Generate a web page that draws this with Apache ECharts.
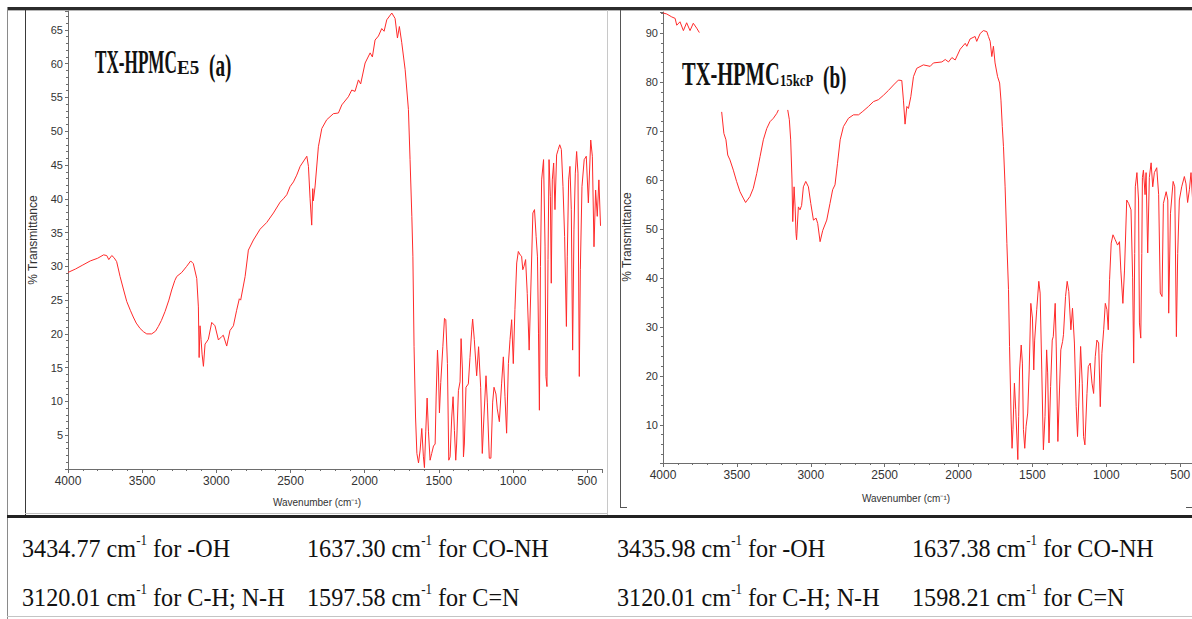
<!DOCTYPE html>
<html><head><meta charset="utf-8">
<script src="https://cdn.jsdelivr.net/npm/echarts@6/dist/echarts.min.js"></script>
<style>html,body{margin:0;padding:0;background:#fff}#c{width:1192px;height:619px}</style>
</head><body><div id="c"></div>
<script>
// ---------- DATA ----------
const wavenumbersA = [4000,3950,3900,3850,3800,3784,3760,3739,3725,3705,3690,3672,3649,3625,3604,3580,3560,3540,3514,3490,3469,3436,3410,3391,3370,3346,3320,3301,3280,3267,3233,3200,3173,3155,3132,3121,3116,3110,3103,3096,3087,3076,3066,3054,3031,3009,2986,2964,2953,2930,2908,2885,2863,2845,2836,2806,2784,2750,2705,2660,2615,2570,2548,2525,2503,2480,2458,2435,2390,2379,2368,2357,2350,2346,2334,2312,2289,2256,2211,2177,2154,2110,2087,2065,2042,2027,1997,1963,1948,1930,1907,1885,1869,1851,1817,1795,1779,1766,1750,1727,1705,1694,1682,1675,1667,1657,1648,1637,1626,1615,1604,1597,1588,1579,1570,1559,1548,1536,1525,1518,1509,1503,1496,1487,1473,1462,1453,1442,1433,1424,1413,1404,1395,1386,1380,1368,1357,1350,1341,1334,1328,1317,1301,1290,1278,1272,1261,1245,1232,1218,1207,1196,1182,1173,1160,1149,1137,1128,1115,1106,1092,1077,1065,1054,1043,1031,1020,1009,998,987,975,964,952,942,934,926,915,904,891,880,866,855,844,835,828,822,815,807,794,784,778,771,764,757,748,742,735,726,717,706,695,685,674,663,652,640,634,625,616,607,598,589,580,571,562,553,546,535,520,506,492,476,465,454,443,432,421,410];
const transmittanceA = [29.1,29.6,30.2,30.8,31.2,31.4,31.7,31.6,31.0,31.6,31.3,30.7,28.5,26.5,24.8,23.5,22.5,21.6,20.8,20.3,20.0,20.0,20.4,21.1,22.0,23.3,25.0,26.5,27.9,28.5,29.1,30.0,30.8,30.4,28.2,24.0,16.5,21.2,19.2,17.0,15.2,18.5,18.8,19.2,21.7,21.2,19.1,19.6,19.8,18.2,20.5,21.2,23.5,25.2,25.0,28.5,32.4,33.9,35.5,36.5,37.9,39.5,40.0,40.6,41.8,42.5,43.5,44.8,46.3,44.8,40.0,36.1,41.5,39.7,41.9,47.7,50.4,51.7,52.6,52.7,53.9,55.1,56.1,55.9,57.6,57.0,60.1,61.6,61.0,63.5,64.1,65.2,64.8,66.5,67.5,66.7,63.8,65.5,63.1,59.1,53.2,45.8,37.4,31.5,18.1,7.7,2.3,0.9,2.8,6.0,1.8,0.2,5.6,10.5,5.6,1.3,2.3,3.4,3.7,10.8,17.6,14.8,8.3,12.8,18.1,22.3,22.1,15.6,1.3,1.8,7.7,10.7,5.7,1.3,3.7,11.6,12.9,19.3,14.8,1.8,3.7,12.1,12.6,16.5,20.6,22.2,19.2,13.8,18.1,12.1,2.3,7.7,13.8,9.9,1.6,1.6,9.9,12.1,11.1,8.9,7.0,12.6,16.6,10.7,5.3,15.6,19.2,22.1,15.6,23.6,30.5,32.2,31.7,31.5,29.5,30.0,31.0,26.0,17.6,26.5,37.9,38.4,34.4,31.4,20.0,8.7,30.0,42.8,45.8,33.0,13.7,12.2,31.0,45.8,40.3,27.5,42.8,45.3,38.4,46.5,47.3,48.0,47.3,41.8,34.4,21.1,31.4,42.8,44.8,38.4,17.6,35.4,43.8,47.0,43.8,13.7,29.5,41.8,45.8,46.3,39.4,48.7,46.3,32.9,41.3,37.4,42.8,36.0];

const wavenumbersB = [4000,3975,3941,3918,3907,3885,3862,3840,3817,3795,3772,3754,3700,3603,3588,3574,3562,3547,3524,3502,3479,3457,3441,3412,3389,3366,3343,3321,3298,3276,3253,3230,3219,3190,3156,3145,3136,3127,3122,3113,3106,3100,3096,3084,3073,3062,3050,3034,3016,3000,2982,2964,2953,2937,2919,2892,2870,2852,2836,2819,2801,2779,2745,2711,2677,2648,2610,2576,2542,2508,2474,2440,2407,2384,2373,2362,2350,2339,2323,2305,2283,2238,2192,2170,2113,2090,2068,2045,2023,1989,1955,1944,1922,1888,1877,1854,1832,1809,1798,1786,1775,1764,1753,1736,1722,1713,1704,1696,1685,1673,1662,1655,1644,1638,1632,1622,1613,1599,1593,1587,1576,1568,1561,1552,1543,1532,1522,1511,1500,1491,1485,1471,1457,1448,1437,1426,1415,1404,1397,1388,1377,1366,1359,1346,1339,1328,1317,1308,1296,1290,1276,1265,1254,1240,1229,1216,1204,1195,1182,1174,1163,1154,1145,1131,1122,1109,1097,1086,1075,1064,1052,1041,1030,1018,1007,996,987,978,967,955,940,924,911,902,888,877,862,849,833,822,815,808,804,793,782,776,767,760,756,749,738,731,720,709,697,686,675,659,646,635,623,614,595,584,578,566,548,537,526,517,506,490,472,461,450,438,427,416,405];
const transmittanceB = [94.1,93.9,93.3,93.0,91.6,92.3,90.5,92.1,90.5,92.0,91.0,90.1,null,73.9,69.5,68.2,65.1,64.1,62.0,59.7,57.6,56.3,55.4,56.6,58.3,61.3,64.8,68.2,70.5,71.9,72.6,73.6,74.3,null,74.3,72.3,68.2,60.0,51.5,58.6,54.5,49.1,47.8,54.5,53.9,54.8,58.6,59.7,58.6,55.2,51.8,52.2,51.1,47.4,49.7,51.8,55.2,58.0,59.0,63.4,68.2,70.9,72.6,73.3,73.3,74.0,75.0,76.0,76.4,77.3,78.3,79.4,80.4,80.3,76.3,71.4,75.0,74.6,77.0,81.1,82.8,83.5,83.2,83.9,84.1,84.6,84.1,85.0,84.5,86.7,87.9,87.3,88.8,89.3,88.3,89.9,90.5,90.3,89.3,88.3,85.2,87.3,83.9,81.1,79.8,76.3,70.9,66.8,58.6,47.0,37.6,26.0,11.0,5.2,9.0,18.5,13.1,2.9,11.7,21.2,26.3,22.6,9.0,5.2,9.7,12.4,21.2,34.8,31.8,21.2,27.3,33.5,39.3,36.9,21.2,4.9,11.7,25.3,20.6,6.3,17.8,27.3,28.0,34.8,25.9,6.6,17.1,25.3,27.0,28.4,36.2,39.3,37.2,29.4,33.8,26.7,13.7,7.6,18.5,26.0,18.5,7.6,5.9,16.4,21.9,22.6,18.5,16.4,23.9,27.3,26.7,13.7,24.6,29.4,34.8,33.5,29.4,39.7,47.1,48.8,47.8,46.7,47.4,41.6,34.8,41.6,55.9,55.2,53.9,40.0,22.6,45.0,58.6,61.5,55.9,30.8,27.7,45.0,60.5,62.0,57.0,61.5,45.1,60.5,63.5,58.6,61.5,62.5,57.0,36.9,36.2,55.2,57.6,55.9,32.8,53.2,59.7,58.6,28.0,45.0,55.9,58.6,60.7,59.2,55.4,58.0,61.5,55.9,48.0];

const xAxisName = 'Wavenumber (cm\u207B\u00B9)';
const yAxisName = '% Transmittance';
const titleA = ['TX-HPMC', 'E5', '(a)'];
const titleB = ['TX-HPMC', '15kcP', '(b)'];
const peaksA = [[3434.77, '-OH'], [1637.30, 'CO-NH'], [3120.01, 'C-H; N-H'], [1597.58, 'C=N']];
const peaksB = [[3435.98, '-OH'], [1637.38, 'CO-NH'], [3120.01, 'C-H; N-H'], [1598.21, 'C=N']];

// ---------- CHART ----------
const narrow = "'Liberation Sans Narrow','Liberation Sans',Arial,sans-serif";
const serif = "'Liberation Serif','Times New Roman',serif";
const axisGray = '#6d6d6d';

function zip(w, t) { return w.map((x, i) => [x, t[i] === null ? '-' : t[i]]); }

function xAxisCfg(idx) {
  return {
    type: 'value', gridIndex: idx, inverse: true, min: 400, max: 4000,
    minInterval: 500, maxInterval: 500,
    axisLine: { show: true, lineStyle: { color: axisGray, width: 1 } },
    axisTick: { show: true, length: 4, lineStyle: { color: axisGray } },
    minorTick: { show: true, splitNumber: 5, length: 2, lineStyle: { color: axisGray } },
    splitLine: { show: false },
    axisLabel: { show: true, showMinLabel: false, margin: 6, color: '#333', fontFamily: narrow, fontSize: 12,
      formatter: v => String(v) }
  };
}
function yAxisCfg(idx, min, max, step) {
  return {
    type: 'value', gridIndex: idx, min: min, max: max,
    minInterval: step, maxInterval: step,
    axisLine: { show: true, lineStyle: { color: axisGray, width: 1 } },
    axisTick: { show: true, length: 3, lineStyle: { color: axisGray } },
    minorTick: { show: true, splitNumber: 5, length: 2, lineStyle: { color: axisGray } },
    splitLine: { show: false },
    axisLabel: { show: true, showMinLabel: false, showMaxLabel: false, margin: 5, color: '#333', fontFamily: narrow, fontSize: 11,
      formatter: v => String(v) }
  };
}

function peakRich(p) {
  return '{n|' + p[0].toFixed(2) + ' cm}{s|-1}{n| for ' + p[1] + '}';
}
const tableRich = {
  n: { fontFamily: serif, fontSize: 26, lineHeight: 30, fill: '#111', color: '#111' },
  s: { fontFamily: serif, fontSize: 14, lineHeight: 30, verticalAlign: 'top', fill: '#111', color: '#111' }
};

const graphics = [];
function line(x1, y1, x2, y2, color, w) {
  graphics.push({ type: 'line', silent: true, shape: { x1: x1, y1: y1, x2: x2, y2: y2 }, style: { stroke: color, lineWidth: w } });
}
// frames
graphics.push({ type: 'rect', silent: true, shape: { x: 7, y: 7, width: 1185, height: 3 }, style: { fill: '#2b2b2b' } });
line(7, 10.5, 1192, 10.5, '#b5b5b5', 1);
line(7.5, 7, 7.5, 619, '#8a8a8a', 1);
line(25.5, 10, 25.5, 516, '#3a3a3a', 1);
line(607.5, 10, 607.5, 515, '#c8c8c8', 1);
line(620.5, 10, 620.5, 507, '#555', 1);
line(620, 507.5, 627, 507.5, '#555', 1);
line(1186, 507.5, 1192, 507.5, '#555', 1);
line(25, 513.5, 607, 513.5, '#c0c0c0', 1);
graphics.push({ type: 'rect', silent: true, shape: { x: 7, y: 515, width: 1185, height: 3 }, style: { fill: '#222' } });
line(7, 616.5, 1192, 616.5, '#c4c4c4', 1);

// axis titles
function txt(x, y, s, font, opts) {
  graphics.push(Object.assign({ type: 'text', silent: true, x: x, y: y,
    style: { text: s, font: font, fill: '#333', align: 'center', verticalAlign: 'middle' } }, opts || {}));
}
txt(317, 502, xAxisName, "10px 'Liberation Sans',Arial,sans-serif");
txt(906, 498, xAxisName, "10px 'Liberation Sans',Arial,sans-serif");
txt(33, 240, yAxisName, "12px 'Liberation Sans',Arial,sans-serif", { rotation: Math.PI / 2 });
txt(627, 237, yAxisName, "12px 'Liberation Sans',Arial,sans-serif", { rotation: Math.PI / 2 });

// panel titles
function title(x, y, parts, sx, subX, subSize, subScale, parX) {
  graphics.push({ type: 'text', silent: true, x: x, y: y, scaleX: sx,
    style: { text: parts[0], font: "bold 33px 'Liberation Serif',serif", fill: '#111', align: 'left', verticalAlign: 'bottom' } });
  graphics.push({ type: 'text', silent: true, x: subX, y: y - 2, scaleX: subScale,
    style: { text: parts[1], font: "bold " + subSize + "px 'Liberation Serif',serif", fill: '#111', align: 'left', verticalAlign: 'bottom' } });
  graphics.push({ type: 'text', silent: true, x: parX, y: y + 2, scaleX: 0.6,
    style: { text: parts[2], font: "bold 32px 'Liberation Serif',serif", fill: '#111', align: 'left', verticalAlign: 'bottom' } });
}
title(95, 79, titleA, 0.52, 177, 19, 1.0, 209);
title(682, 91, titleB, 0.62, 780, 17, 0.75, 823);

// table
function cell(x, y, p) {
  graphics.push({ type: 'text', silent: true, x: x, y: y, scaleX: 0.93,
    style: { text: peakRich(p), rich: tableRich, align: 'left', verticalAlign: 'middle', fill: '#111' } });
}
cell(22, 548, peaksA[0]); cell(307, 548, peaksA[1]);
cell(22, 597, peaksA[2]); cell(307, 597, peaksA[3]);
cell(617, 548, peaksB[0]); cell(912, 548, peaksB[1]);
cell(617, 597, peaksB[2]); cell(912, 597, peaksB[3]);

const chart = echarts.init(document.getElementById('c'), null, { renderer: 'svg' });
chart.setOption({
  animation: false,
  backgroundColor: '#fff',
  grid: [
    { left: 68, top: 11, width: 534, height: 458, outerBoundsMode: 'none', containLabel: false },
    { left: 663, top: 12, width: 532, height: 451, outerBoundsMode: 'none', containLabel: false }
  ],
  xAxis: [xAxisCfg(0), xAxisCfg(1)],
  yAxis: [yAxisCfg(0, 0, 67.8, 5), yAxisCfg(1, 2.2, 94.3, 10)],
  series: [
    { type: 'line', xAxisIndex: 0, yAxisIndex: 0, data: zip(wavenumbersA, transmittanceA), showSymbol: false, symbol: 'none', connectNulls: false, lineStyle: { color: '#ff2a2a', width: 1 } },
    { type: 'line', xAxisIndex: 1, yAxisIndex: 1, data: zip(wavenumbersB, transmittanceB), showSymbol: false, symbol: 'none', connectNulls: false, lineStyle: { color: '#ff2a2a', width: 1 } }
  ],
  graphic: graphics
});
</script></body></html>
